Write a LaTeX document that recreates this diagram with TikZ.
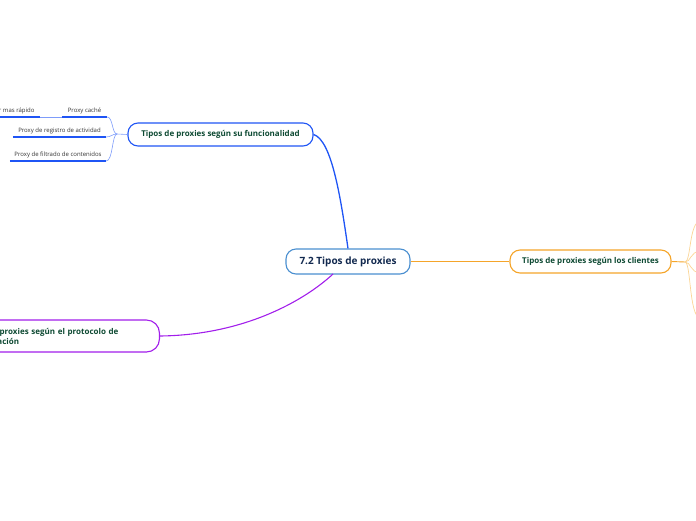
\documentclass[tikz,border=0pt]{standalone}
\usepackage{fontspec}
\setmainfont{Open Sans}
\definecolor{rootline}{HTML}{4A8FD0}
\definecolor{roottext}{HTML}{12294F}
\definecolor{topictext}{HTML}{0E4A33}
\definecolor{funcblue}{HTML}{1F55F5}
\definecolor{funclight}{HTML}{7E9CFA}
\definecolor{cliorange}{HTML}{F5A52A}
\definecolor{clilight}{HTML}{FBD595}
\definecolor{protpurple}{HTML}{A21EEB}
\definecolor{leaftext}{HTML}{333333}

\tikzset{
  topic/.style={draw, line width=1.1pt, rounded corners=10pt, fill=white,
    inner sep=0pt, text=topictext, font=\bfseries\fontsize{8}{10}\selectfont},
  leaf/.style={inner xsep=0pt, inner ysep=2.4pt, anchor=south, text=leaftext,
    font=\fontsize{6}{7}\selectfont},
  leafline/.style={funcblue, line width=1.1pt},
  twig/.style={funclight, line width=0.6pt}
}

\begin{document}
\begin{tikzpicture}[x=1pt,y=-1pt]
	\useasboundingbox (0,0) rectangle (696,520);
	\clip (0,0) rectangle (696,520);

	% main topics
	\node[topic, draw=rootline, text=roottext, minimum width=124pt, minimum height=25pt,
	  font=\bfseries\fontsize{10}{12}\selectfont] (root) at (348,261.5) {7.2 Tipos de proxies};
	\node[topic, draw=funcblue, minimum width=185pt, minimum height=23pt] (func) at (220.5,134.5)
	  {Tipos de proxies según su funcionalidad};
	\node[topic, draw=cliorange, minimum width=161pt, minimum height=23pt] (cli) at (590.5,261.5)
	  {Tipos de proxies según los clientes};
	\node[topic, draw=protpurple, anchor=east, minimum height=32pt, text width=188pt, align=left,
	  inner xsep=8pt, rounded corners=13pt] (prot) at (160,336)
	  {Tipos de proxies según el protocolo de\\comunicación};

	\draw[funcblue, line width=1.3pt] (func.east) .. controls (332,140) and (341,200) .. (root.north);
	\draw[protpurple, line width=1.1pt] (prot.east) .. controls (245,335) and (305,300) .. (333,274);
	\draw[cliorange, line width=0.9pt] (root.east) -- (cli.west);

	% leaves of the functionality branch
	\coordinate (jf) at (117,134);
	\node[leaf, minimum width=45pt] (cache) at (84.5,117) {Proxy caché};
	\node[leaf, minimum width=93pt] (registro) at (59.5,137) {Proxy de registro de actividad};
	\node[leaf, minimum width=96pt] (filtro) at (58,161) {Proxy de filtrado de contenidos};
	\node[leaf, anchor=south east, minimum width=62pt, align=right, inner xsep=0pt] (rapido) at (40,117)
	  {Navegar mas rápido\hspace{5pt}};

	\foreach \lf in {cache, registro, filtro, rapido}
	  \draw[leafline] (\lf.south west) -- (\lf.south east);
	\draw[twig] (rapido.south east) -- (cache.south west);
	\draw[twig] (func.west) -- (jf);
	\draw[twig] (jf) .. controls (112,134) and (113,117) .. (cache.south east);
	\draw[twig] (jf) .. controls (112,134) and (111,137) .. (registro.south east);
	\draw[twig] (jf) .. controls (112,134) and (113,161) .. (filtro.south east);

	% branches of the clients topic, leaving the page
	\coordinate (jc) at (685,262);
	\draw[cliorange, line width=0.9pt] (cli.east) -- (jc);
	\draw[clilight, line width=0.7pt] (jc) .. controls (691,262) and (689,223) .. (700,221);
	\draw[clilight, line width=0.7pt] (jc) .. controls (691,262) and (690,252) .. (700,251);
	\draw[clilight, line width=0.7pt] (jc) .. controls (691,262) and (690,272) .. (700,273);
	\draw[clilight, line width=0.7pt] (jc) .. controls (691,262) and (689,316) .. (700,318);
\end{tikzpicture}
\end{document}
